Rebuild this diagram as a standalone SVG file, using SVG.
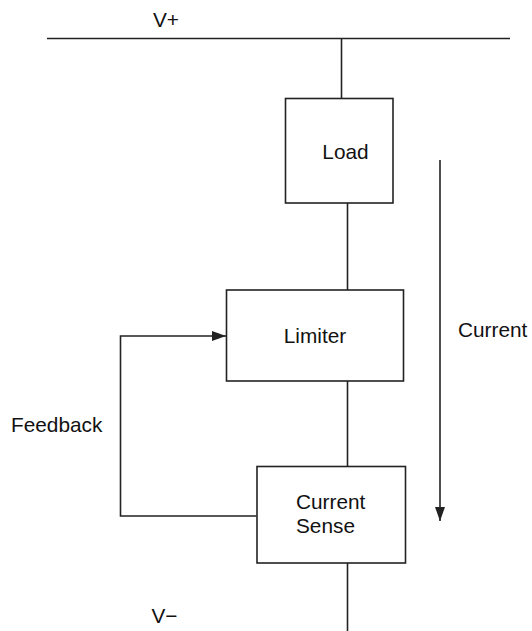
<svg xmlns="http://www.w3.org/2000/svg" width="532" height="631" viewBox="0 0 532 631">
<style>
.box{fill:#fff;stroke:#222;stroke-width:1.6}
.ln{fill:none;stroke:#222;stroke-width:1.6}
text{font-family:"Liberation Sans",Arial,sans-serif;font-size:20.8px;fill:#111}
</style>
<defs>
<marker id="ah" viewBox="0 0 14 10" refX="14" refY="5" markerWidth="14" markerHeight="10" markerUnits="userSpaceOnUse" orient="auto">
<path d="M0,0 L14,5 L0,10 Z" fill="#222"/>
</marker>
</defs>
<g id="connectors">
<line class="ln" x1="47" y1="38.5" x2="510" y2="38.5"/>
<line class="ln" x1="341.5" y1="38.5" x2="341.5" y2="98.5"/>
<line class="ln" x1="347.5" y1="203" x2="347.5" y2="290"/>
<line class="ln" x1="347.5" y1="381" x2="347.5" y2="466.5"/>
<line class="ln" x1="347.5" y1="563" x2="347.5" y2="631"/>
<polyline class="ln" points="256.5,516 120.5,516 120.5,336 226,336" marker-end="url(#ah)"/>
<line class="ln" x1="440" y1="160" x2="440" y2="521" marker-end="url(#ah)"/>
</g>
<g id="vplus"><text x="153" y="26.5">V+</text></g>
<g id="load">
<rect class="box" x="285.5" y="98.5" width="107.5" height="104.5"/>
<text x="345.5" y="159" text-anchor="middle">Load</text>
</g>
<g id="limiter">
<rect class="box" x="226.5" y="290" width="177" height="91"/>
<text x="315" y="343" text-anchor="middle">Limiter</text>
</g>
<g id="current-sense">
<rect class="box" x="257" y="466.5" width="148.5" height="96.5"/>
<text x="296" y="509">Current</text>
<text x="296" y="533">Sense</text>
</g>
<g id="feedback-label"><text x="11" y="432">Feedback</text></g>
<g id="current-label"><text x="458" y="337">Current</text></g>
<g id="vminus"><text x="151.5" y="623">V−</text></g>
</svg>
